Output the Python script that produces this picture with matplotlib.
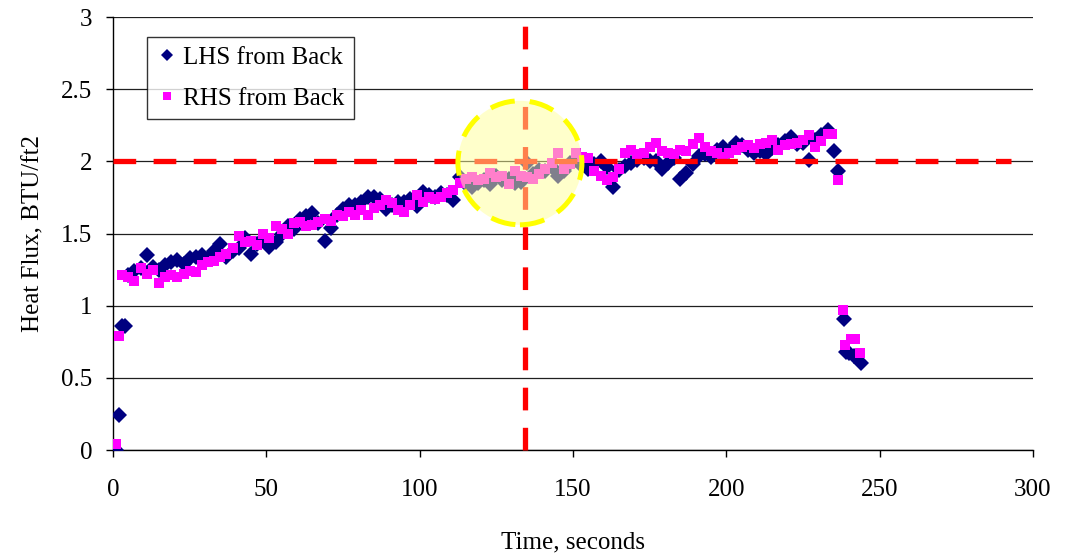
import matplotlib
matplotlib.use("Agg")
import matplotlib.pyplot as plt
from matplotlib.patches import Ellipse

plt.rcParams['font.family'] = ['Liberation Serif', 'DejaVu Serif']

lhs_time = [1, 2, 3, 4,
            5, 7, 9, 11, 13, 15, 17, 19, 21, 23, 25, 27, 29, 31, 33, 35, 37, 39, 41, 43,
            45, 47, 49, 51, 53, 55, 57, 59, 61, 63, 65, 67, 69, 71, 73, 75, 77, 79, 81, 83,
            85, 87, 89, 91, 93, 95, 97, 99, 101, 103, 105, 107, 109, 111, 113, 115, 117, 119, 121, 123,
            125, 127, 129, 131, 133, 135, 137, 139, 141, 143, 145, 147, 149, 151, 153, 155, 157, 159, 161, 163,
            165, 167, 169, 171, 173, 175, 177, 179, 181, 183, 185, 187, 189, 191, 193, 195, 197, 199, 201, 203,
            205, 207, 209, 211, 213, 215, 217, 219, 221, 223, 225, 227, 229, 231, 233,
            235, 236.5, 238.3, 239, 240, 241.5, 244]
lhs_flux = [0.00, 0.24, 0.86, 0.86,
            1.21, 1.24, 1.26, 1.35, 1.27, 1.25, 1.28, 1.30, 1.32, 1.29,
            1.33, 1.34, 1.35, 1.33, 1.38, 1.43, 1.34, 1.38, 1.40, 1.47,
            1.36, 1.43, 1.46, 1.41, 1.44, 1.50, 1.55, 1.53, 1.60, 1.62,
            1.64, 1.57, 1.45, 1.54, 1.63, 1.67, 1.70, 1.70, 1.72, 1.75,
            1.75, 1.74, 1.67, 1.70, 1.72, 1.72, 1.74, 1.69, 1.79, 1.77,
            1.75, 1.78, 1.77, 1.73, 1.89, 1.84, 1.82, 1.85, 1.87, 1.84,
            1.90, 1.87, 1.88, 1.85, 1.86, 1.99, 1.91, 1.94, 1.93, 1.96,
            1.90, 1.93, 1.99, 2.01, 1.97, 1.95, 1.98, 2.00, 1.96, 1.82,
            1.94, 1.97, 1.99, 2.01, 2.02, 2.00, 2.00, 1.95, 1.99, 2.02,
            1.88, 1.92, 1.98, 2.04, 2.05, 2.03, 2.08, 2.10, 2.07, 2.13,
            2.11, 2.08, 2.06, 2.07, 2.05, 2.09, 2.11, 2.14, 2.17, 2.12,
            2.13, 2.01, 2.15, 2.18, 2.22,
            2.07, 1.93, 0.91, 0.68, 0.67, 0.65, 0.60]

rhs_time = [1, 2, 3,
            5, 7, 9, 11, 13, 15, 17, 19, 21, 23, 25, 27, 29, 31, 33, 35, 37, 39, 41, 43,
            45, 47, 49, 51, 53, 55, 57, 59, 61, 63, 65, 67, 69, 71, 73, 75, 77, 79, 81, 83,
            85, 87, 89, 91, 93, 95, 97, 99, 101, 103, 105, 107, 109, 111, 113, 115, 117, 119, 121, 123,
            125, 127, 129, 131, 133, 135, 137, 139, 141, 143, 145, 147, 149, 151, 153, 155, 157, 159, 161, 163,
            165, 167, 169, 171, 173, 175, 177, 179, 181, 183, 185, 187, 189, 191, 193, 195, 197, 199, 201, 203,
            205, 207, 209, 211, 213, 215, 217, 219, 221, 223, 225, 227, 229, 231, 233,
            234.5, 236.5, 238, 238.7, 240.5, 242, 243.5]
rhs_flux = [0.04, 0.79, 1.21,
            1.20, 1.17, 1.26, 1.22, 1.25, 1.16, 1.20, 1.21, 1.20, 1.22,
            1.24, 1.23, 1.28, 1.30, 1.31, 1.34, 1.36, 1.40, 1.48, 1.44,
            1.45, 1.42, 1.50, 1.47, 1.55, 1.53, 1.50, 1.57, 1.58, 1.55,
            1.56, 1.58, 1.60, 1.59, 1.63, 1.62, 1.65, 1.63, 1.66, 1.63,
            1.68, 1.70, 1.73, 1.71, 1.66, 1.65, 1.70, 1.77, 1.72, 1.75,
            1.74, 1.75, 1.78, 1.80, 1.85, 1.88, 1.89, 1.87, 1.88, 1.92,
            1.89, 1.90, 1.84, 1.93, 1.90, 1.89, 1.88, 1.91, 1.95, 1.99,
            2.06, 1.95, 1.98, 2.06, 2.03, 2.02, 1.93, 1.90, 1.87, 1.89,
            1.95, 2.06, 2.08, 2.05, 2.06, 2.10, 2.13, 2.07, 2.06, 2.05,
            2.08, 2.07, 2.12, 2.16, 2.10, 2.07, 2.06, 2.03, 2.06, 2.08,
            2.10, 2.11, 2.09, 2.12, 2.13, 2.15, 2.08, 2.11, 2.12, 2.13,
            2.15, 2.18, 2.10, 2.14, 2.19,
            2.19, 1.87, 0.97, 0.73, 0.77, 0.77, 0.67]

target_flux = 2.0
target_time = 134.3
hline_end = 293
circle_center = (132.7, 1.99)

x_ticks = [0, 50, 100, 150, 200, 250, 300]
y_ticks = [0, 0.5, 1, 1.5, 2, 2.5, 3]
y_ticklabels = ['0', '0.5', '1', '1.5', '2', '2.5', '3']

fig = plt.figure(figsize=(10.67, 5.56), dpi=100)
ax = fig.add_axes([0.1059, 0.1906, 0.8622, 0.7788])

ax.set_xlim(0, 300)
ax.set_ylim(0, 3)
ax.set_xticks(x_ticks)
ax.set_yticks(y_ticks)
ax.set_yticklabels(y_ticklabels)
ax.yaxis.grid(True, color='#202020', linewidth=0.9)
ax.set_axisbelow(True)
for s in ['top', 'right']:
    ax.spines[s].set_visible(False)
for s in ['left', 'bottom']:
    ax.spines[s].set_color('black')
    ax.spines[s].set_linewidth(1.0)
ax.tick_params(axis='x', direction='out', length=5, width=1, labelsize=18, pad=16)
ax.tick_params(axis='y', direction='out', length=5, width=1, labelsize=18, pad=10)

ax.plot(lhs_time, lhs_flux, linestyle='none', marker='D', markersize=8.3,
        color='#000080', markeredgewidth=0, label='LHS from Back', zorder=3)
ax.plot(rhs_time, rhs_flux, linestyle='none', marker='s', markersize=7.8,
        color='#FF00FF', markeredgewidth=0, label='RHS from Back', zorder=4)

ax.plot([0, hline_end], [target_flux, target_flux], color='#FF0000', linewidth=3.8,
        linestyle=(0, (4.3, 3.3)), zorder=5, solid_capstyle='butt')
ax.plot([target_time, target_time], [0, 3], color='#FF0000', linewidth=3.8,
        linestyle=(0, (4.3, 3.3)), zorder=5, clip_on=False)

ell_w = 2 * 62 / (920 / 300)
ell_h = 2 * 62 / (433 / 3)
ax.add_patch(Ellipse(circle_center, ell_w, ell_h, facecolor='#FFFF99', edgecolor='none',
                     alpha=0.5, zorder=6))
ax.add_patch(Ellipse(circle_center, ell_w, ell_h, facecolor='none', edgecolor='#FFFF00',
                     linewidth=3.6, linestyle=(0, (5, 3)), zorder=7))

ax.set_xlabel('Time, seconds', fontsize=18, labelpad=22)
ax.set_ylabel('Heat Flux, BTU/ft2', fontsize=18, labelpad=12)

leg = ax.legend(loc='upper left', bbox_to_anchor=(0.037, 0.954), borderaxespad=0,
                fontsize=18, frameon=True, fancybox=False, edgecolor='black',
                handlelength=0.8, handletextpad=0.25, borderpad=0.38, labelspacing=0.74,
                markerscale=0.75)
leg.get_frame().set_linewidth(1.0)
leg.set_zorder(10)

fig.savefig('out.png', dpi=100)
